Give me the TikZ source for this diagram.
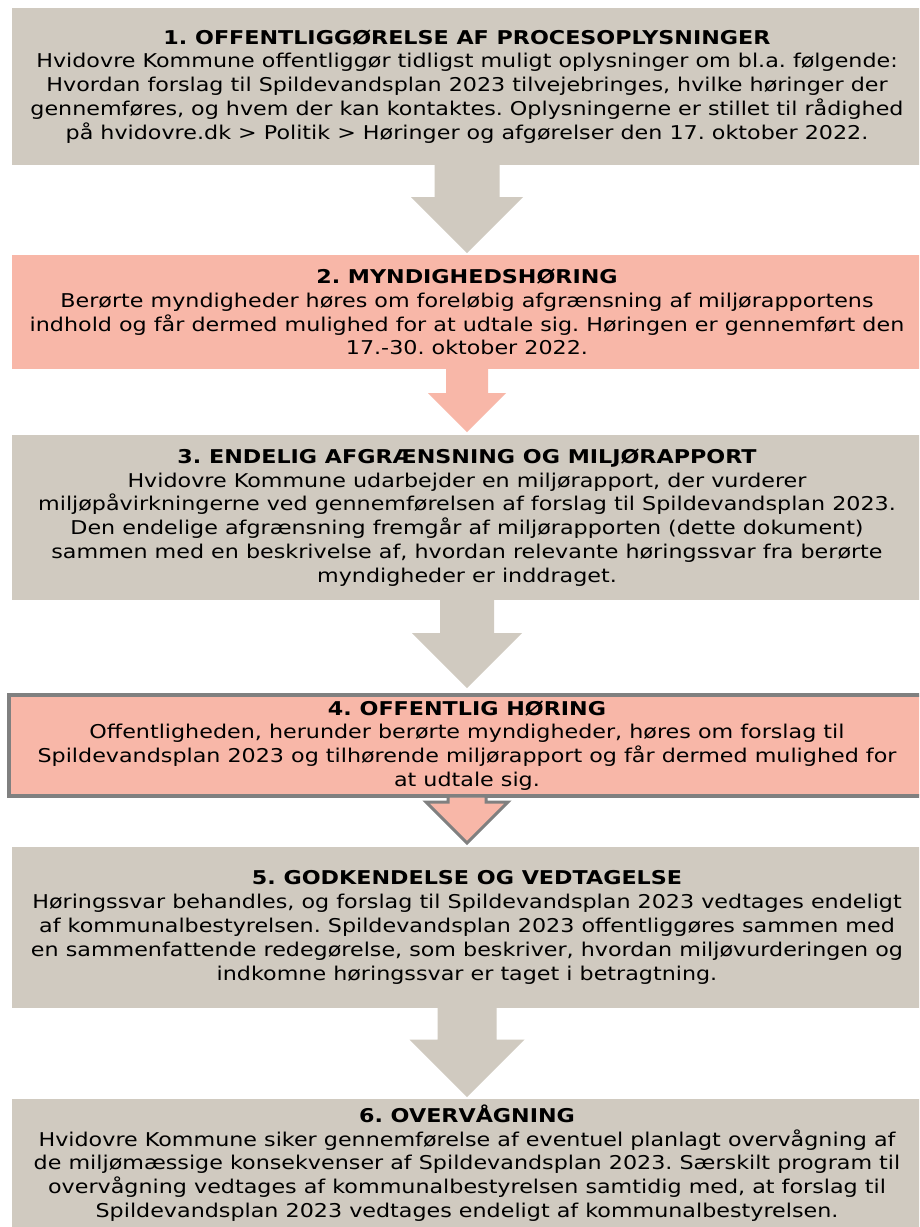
\documentclass[tikz,border=0pt]{standalone}
\usepackage{fontspec}
\setmainfont{DejaVu Sans}[FakeStretch=1.17]
\usetikzlibrary{calc}

\definecolor{tanbox}{HTML}{D0CAC0}
\definecolor{salmonbox}{HTML}{F8B7A8}
\definecolor{edgegray}{HTML}{808080}

\tikzset{
  stepbox/.style={rectangle,inner sep=0pt,outer sep=0pt,minimum width=910pt,
    align=center,font=\fontsize{19}{23.8}\selectfont},
  tanstep/.style={stepbox,fill=tanbox},
  salmonstep/.style={stepbox,fill=salmonbox},
  tanarrow/.style={fill=tanbox},
  salmonarrow/.style={fill=salmonbox},
}

% block arrow: style, from, to, shaft half width, head half width, gap at tip
\newcommand{\flowarrow}[6][]{%
  \path[#1] ([xshift=-#4pt]#2.south) -- ([xshift=-#4pt,yshift=#5pt+#6pt]#3.north)
    -- ([xshift=-#5pt,yshift=#5pt+#6pt]#3.north) -- ([yshift=#6pt]#3.north)
    -- ([xshift=#5pt,yshift=#5pt+#6pt]#3.north) -- ([xshift=#4pt,yshift=#5pt+#6pt]#3.north)
    -- ([xshift=#4pt]#2.south) -- cycle;}

\frenchspacing
\begin{document}
\begin{tikzpicture}[x=1pt,y=-1pt]
  \clip (0,0) rectangle (919,1227);
  \fill[white] (0,0) rectangle (919,1227);

  \node[tanstep,minimum height=157pt] (b1) at (467,86.5)
    {\textbf{1. OFFENTLIGGØRELSE AF PROCESOPLYSNINGER}\\
     Hvidovre Kommune offentliggør tidligst muligt oplysninger om bl.a. følgende:\\
     Hvordan forslag til Spildevandsplan 2023 tilvejebringes, hvilke høringer der\\
     gennemføres, og hvem der kan kontaktes. Oplysningerne er stillet til rådighed\\
     på hvidovre.dk > Politik > Høringer og afgørelser den 17. oktober 2022.};
  \node[salmonstep,minimum height=114pt] (b2) at (467,312)
    {\textbf{2. MYNDIGHEDSHØRING}\\
     Berørte myndigheder høres om foreløbig afgrænsning af miljørapportens\\
     indhold og får dermed mulighed for at udtale sig. Høringen er gennemført den\\
     17.-30. oktober 2022.};
  \node[tanstep,minimum height=165pt] (b3) at (467,517.5)
    {\textbf{3. ENDELIG AFGRÆNSNING OG MILJØRAPPORT}\\
     Hvidovre Kommune udarbejder en miljørapport, der vurderer\\
     miljøpåvirkningerne ved gennemførelsen af forslag til Spildevandsplan 2023.\\
     Den endelige afgrænsning fremgår af miljørapporten (dette dokument)\\
     sammen med en beskrivelse af, hvordan relevante høringssvar fra berørte\\
     myndigheder er inddraget.};
  \node[salmonstep,draw=edgegray,line width=4pt,minimum width=916pt,minimum height=101pt] (b4) at (467,745.5)
    {\textbf{4. OFFENTLIG HØRING}\\
     Offentligheden, herunder berørte myndigheder, høres om forslag til\\
     Spildevandsplan 2023 og tilhørende miljørapport og får dermed mulighed for\\
     at udtale sig.};
  \node[tanstep,minimum height=161pt] (b5) at (467,927.5)
    {\textbf{5. GODKENDELSE OG VEDTAGELSE}\\
     Høringssvar behandles, og forslag til Spildevandsplan 2023 vedtages endeligt\\
     af kommunalbestyrelsen. Spildevandsplan 2023 offentliggøres sammen med\\
     en sammenfattende redegørelse, som beskriver, hvordan miljøvurderingen og\\
     indkomne høringssvar er taget i betragtning.};
  \node[tanstep,minimum height=128pt] (b6) at (467,1163)
    {\textbf{6. OVERVÅGNING}\\
     Hvidovre Kommune siker gennemførelse af eventuel planlagt overvågning af\\
     de miljømæssige konsekvenser af Spildevandsplan 2023. Særskilt program til\\
     overvågning vedtages af kommunalbestyrelsen samtidig med, at forslag til\\
     Spildevandsplan 2023 vedtages endeligt af kommunalbestyrelsen.};

  % arrows between the steps
  \flowarrow[tanarrow]{b1}{b2}{32.5}{56}{2}
  \flowarrow[salmonarrow]{b2}{b3}{21}{39}{3}
  \flowarrow[tanarrow]{b3}{b4}{27}{55}{7}
  \flowarrow[salmonarrow,draw=edgegray,line width=3pt,line join=miter]{b4}{b5}{19}{41}{4}
  \flowarrow[tanarrow]{b5}{b6}{29.5}{57.5}{2}
\end{tikzpicture}
\end{document}
